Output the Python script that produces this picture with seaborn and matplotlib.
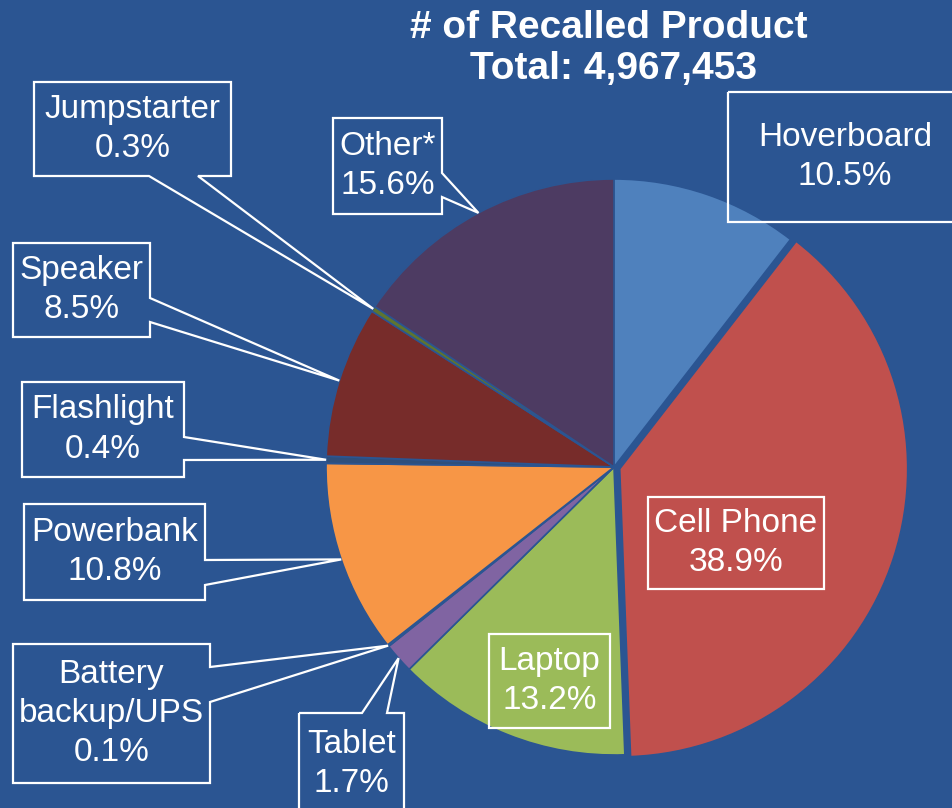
#IMPORTING NECESSARY LIBRARIES
import matplotlib
matplotlib.use('Agg')
import matplotlib.pyplot as plt
from matplotlib import font_manager
from matplotlib.patches import Polygon
import numpy as np
import seaborn as sns

#DATA
products = ['Hoverboard', 'Cell Phone', 'Laptop', 'Tablet', 'Battery\nbackup/UPS',
            'Powerbank', 'Flashlight', 'Speaker', 'Jumpstarter', 'Other*']
shares = [10.5, 38.9, 13.2, 1.7, 0.1, 10.8, 0.4, 8.5, 0.3, 15.6]
total_recalled = 4967453
slice_colors = ['#4F81BD', '#C0504D', '#9BBB59', '#8064A2', '#4BACC6',
                '#F79646', '#2E4F7C', '#772C2A', '#5F7530', '#4D3B62']
BG = '#2B5592'

#STYLE AND FONT (NARROW FONT IF AVAILABLE)
sns.set_style('white')
names = {f.name for f in font_manager.fontManager.ttflist}
if 'Liberation Sans Narrow' in names:
    plt.rcParams['font.family'] = ['Liberation Sans Narrow', 'DejaVu Sans']
    label_size, title_size = 28, 30
else:
    plt.rcParams['font.family'] = ['Liberation Sans', 'DejaVu Sans']
    label_size, title_size = 24, 28

fig = plt.figure(figsize=(9.53, 8.08), dpi=100, facecolor=BG)
ax = fig.add_axes([0, 0, 1, 1])
ax.set_facecolor(BG)

#PIE IN PIXEL COORDINATES (Y AXIS POINTS DOWN, SO COUNTERCLOCK=TRUE LOOKS CLOCKWISE)
cx, cy, R = 614, 467, 288
wedges, _ = ax.pie(shares, colors=sns.color_palette(slice_colors), radius=R, center=(cx, cy),
                   startangle=-90, counterclock=True,
                   wedgeprops=dict(edgecolor=BG, linewidth=1.2))
ax.set_xlim(0, 953)
ax.set_ylim(808, 0)
ax.set_aspect('equal')
ax.axis('off')

vals = np.array(shares)
mids = np.radians(-90 + 360 * (np.cumsum(vals) - vals / 2) / vals.sum())
tips = [(cx + R * np.cos(a), cy + R * np.sin(a)) for a in mids]

#CELL PHONE SLICE PULLED OUT A BIT
wedges[1].set_center((cx + 6 * np.cos(mids[1]), cy + 6 * np.sin(mids[1])))


def callout(box, tip=None, side=None, base=None):
    x0, y0, x1, y1 = box
    if side == 'right':
        pts = [(x0, y0), (x1, y0), (x1, base[0]), tip, (x1, base[1]), (x1, y1), (x0, y1)]
    elif side == 'bottom':
        pts = [(x0, y0), (x1, y0), (x1, y1), (base[1], y1), tip, (base[0], y1), (x0, y1)]
    elif side == 'top':
        pts = [(x0, y0), (base[0], y0), tip, (base[1], y0), (x1, y0), (x1, y1), (x0, y1)]
    else:
        pts = [(x0, y0), (x1, y0), (x1, y1), (x0, y1)]
    ax.add_patch(Polygon(pts, closed=True, fill=False, edgecolor='white', lw=1.6, zorder=5))


#LABEL BOXES: (box, side of the pointer, pointer base)
boxes = {
    'Hoverboard': ((728, 92, 965, 222), None, None),
    'Cell Phone': ((648, 497, 824, 589), None, None),
    'Laptop': ((489, 634, 610, 728), None, None),
    'Tablet': ((299, 713, 404, 840), 'top', (362, 387)),
    'Battery\nbackup/UPS': ((13, 644, 210, 783), 'right', (667, 702)),
    'Powerbank': ((24, 504, 205, 600), 'right', (560, 585)),
    'Flashlight': ((22, 382, 184, 477), 'right', (437, 460)),
    'Speaker': ((13, 243, 150, 337), 'right', (298, 322)),
    'Jumpstarter': ((34, 82, 231, 176), 'bottom', (149, 198)),
    'Other*': ((333, 118, 442, 214), 'right', (173, 197)),
}

for i, name in enumerate(products):
    box, side, base = boxes[name]
    callout(box, tips[i] if side else None, side, base)
    bx = (box[0] + min(box[2], 953)) / 2 if name != 'Hoverboard' else 845
    by = (box[1] + min(box[3], 795)) / 2 if name != 'Tablet' else 764
    ax.text(bx, by, f'{name}\n{shares[i]:.1f}%', ha='center', va='center',
            color='white', fontsize=label_size, linespacing=1.35, zorder=6)

#TITLE
ax.text(609, 38, '# of Recalled Product', ha='center', va='baseline', color='white',
        fontsize=title_size, fontweight='bold')
ax.text(614, 79, f'Total: {total_recalled:,}', ha='center', va='baseline', color='white',
        fontsize=title_size, fontweight='bold')

fig.savefig('out.png', dpi=100, facecolor=BG)
